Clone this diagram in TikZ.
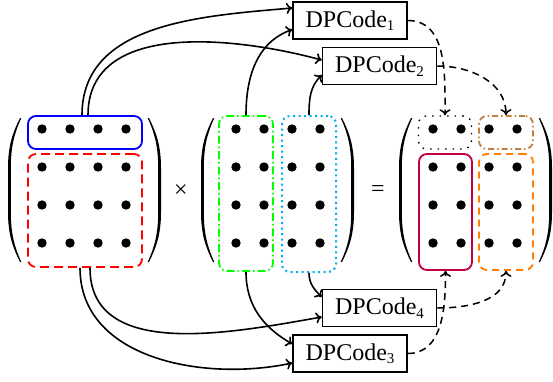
\documentclass[tikz,border=0pt]{standalone}
\usepackage{fontspec}
\setmainfont{Liberation Serif}
\usetikzlibrary{arrows.meta}
\definecolor{skyc}{RGB}{0,174,239}
\definecolor{purp}{RGB}{191,0,64}
\definecolor{brwn}{RGB}{191,128,64}
\definecolor{orng}{RGB}{255,128,0}
\newcommand\dpc[1]{DPCode\raisebox{-3.5pt}{\fontsize{15}{15}\selectfont #1}}
\begin{document}
\begin{tikzpicture}[x=1pt,y=1pt,
  grp/.style={rounded corners=8pt, inner sep=0pt, line width=1.8pt},
  dp/.style={draw, line width=1.5pt, minimum width=114pt, minimum height=37pt, inner sep=0pt, font=\fontsize{24}{28}\selectfont},
  feed/.style={line width=1.6pt, -{To[length=6pt,width=11pt]}},
  emit/.style={line width=1.5pt, dash pattern=on 7pt off 5pt, -{To[length=6pt,width=11pt]}},
  op/.style={font=\fontsize{24}{28}\selectfont, inner sep=0pt},
  lparen/.pic={\fill (0,72) .. controls (-7,58) and (-12,45) .. (-12,22) -- (-12,-22) .. controls (-12,-45) and (-7,-58) .. (0,-72) -- (1.3,-72) .. controls (-5,-58) and (-9.2,-45) .. (-9.2,-22) -- (-9.2,22) .. controls (-9.2,45) and (-5,58) .. (1.3,72) -- cycle;}
]
\useasboundingbox (0,0) rectangle (553,381);

% parentheses
\pic at (20,191) {lparen};
\pic[xscale=-1] at (149,191) {lparen};
\pic at (213,191) {lparen};
\pic[xscale=-1] at (342,191) {lparen};
\pic at (411,191) {lparen};
\pic[xscale=-1] at (540,191) {lparen};

% operators
\node[op] (times) at (181,190) {×};
\node[op] (eq) at (378,190) {=};

% dots
\foreach \x in {42,70,98,126,236,264,292,320,433,461,489,517}
  \foreach \y in {252,214,176,138}
    \fill (\x,\y) circle (4.7pt);

% groups
\node[grp, draw=blue, minimum width=114pt, minimum height=33pt] (B) at (85,248.5) {};
\node[grp, draw=red, dash pattern=on 9pt off 5pt, minimum width=114pt, minimum height=113pt] (R) at (85,170.5) {};
\node[grp, draw=green, dash pattern=on 8pt off 3pt on 1.5pt off 3pt, minimum width=54pt, minimum height=155pt] (G) at (246,187.5) {};
\node[grp, draw=skyc, line width=2pt, dash pattern=on 2pt off 3.5pt, minimum width=54pt, minimum height=156pt] (C) at (309,187) {};
\node[grp, draw=black, line width=1.4pt, dash pattern=on 1.5pt off 6pt, minimum width=53pt, minimum height=33pt] (K) at (445,248.5) {};
\node[grp, draw=brwn, dash pattern=on 6pt off 3pt on 1.5pt off 3pt, minimum width=54pt, minimum height=33pt] (N) at (506,248.5) {};
\node[grp, draw=purp, minimum width=53pt, minimum height=116pt] (P) at (445.5,169) {};
\node[grp, draw=orng, dash pattern=on 7pt off 5pt, minimum width=54pt, minimum height=116pt] (O) at (506,169) {};

% DPCode boxes
\node[dp] (D1) at (350,360.5) {\dpc{1}};
\node[dp] (D2) at (379.5,315) {\dpc{2}};
\node[dp] (D4) at (379.5,73) {\dpc{4}};
\node[dp] (D3) at (350,27.5) {\dpc{3}};

% inputs
\draw[feed] ([xshift=-3pt]B.north) to[out=90,in=185] ([yshift=12.5pt]D1.west);
\draw[feed] ([xshift=3pt]B.north) to[out=90,in=165] ([yshift=6pt]D2.west);
\draw[feed] (G.north) to[out=90,in=200] ([yshift=-9pt]D1.west);
\draw[feed] (C.north) to[out=90,in=225] ([yshift=-9pt]D2.west);
\draw[feed] ([xshift=-5pt]R.south) to[out=-90,in=192] ([yshift=-9.5pt]D3.west);
\draw[feed] ([xshift=5pt]R.south) to[out=-90,in=190] ([yshift=-9pt]D4.west);
\draw[feed] (G.south) to[out=-90,in=150] ([yshift=9.5pt]D3.west);
\draw[feed] (C.south) to[out=-90,in=135] ([yshift=11pt]D4.west);

% outputs
\draw[emit] (D1.east) to[out=0,in=90] (K.north);
\draw[emit] (D2.east) to[out=0,in=90] (N.north);
\draw[emit] (D3.east) to[out=0,in=-90] (P.south);
\draw[emit] (D4.east) to[out=0,in=-90] (O.south);
\end{tikzpicture}
\end{document}
